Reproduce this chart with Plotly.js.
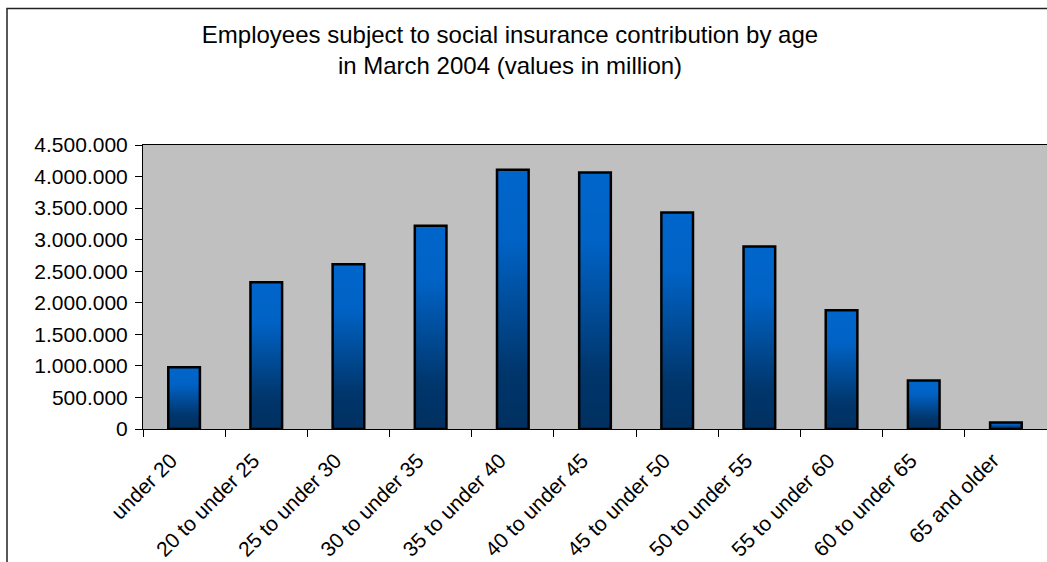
<!DOCTYPE html>
<html>
<head>
<meta charset="utf-8">
<script src="https://cdn.plot.ly/plotly-3.0.1.min.js"></script>
<style>
  html, body { margin: 0; padding: 0; background: #ffffff; }
  #chart { width: 1047px; height: 562px; }
</style>
</head>
<body>
<div id="chart"></div>
<script>
// Age groups and number of employees subject to social insurance contribution (March 2004)
const ageGroups = [
  'under 20', '20 to under 25', '25 to under 30', '30 to under 35',
  '35 to under 40', '40 to under 45', '45 to under 50', '50 to under 55',
  '55 to under 60', '60 to under 65', '65 and older'
];
const employees = [
  979000, 2326000, 2611000, 3220000, 4107000, 4064000,
  3430000, 2892000, 1882000, 768000, 103000
];
const titleLines = [
  'Employees subject to social insurance contribution by age',
  'in March 2004 (values in million)'
];

const FONT = 'Liberation Sans, Arial, Helvetica, sans-serif';

const trace = {
  type: 'bar',
  x: ageGroups,
  y: employees,
  width: 0.385,
  marker: { color: '#0066CC', line: { color: '#000000', width: 2.5 } },
  hoverinfo: 'x+y'
};

const layout = {
  width: 1047,
  height: 562,
  margin: { l: 143, r: 0, t: 145, b: 133, pad: 0 },
  paper_bgcolor: '#ffffff',
  plot_bgcolor: '#C0C0C0',
  separators: ',.',
  showlegend: false,
  font: { family: FONT, color: '#000000', size: 21 },
  title: {
    text: titleLines.join('<br>'),
    font: { family: FONT, size: 24, color: '#000000' },
    xref: 'container', x: 510 / 1047, xanchor: 'center',
    yref: 'container', y: 1 - 43 / 562, yanchor: 'top'
  },
  xaxis: {
    type: 'category',
    range: [-0.5, 10.5],
    tickson: 'boundaries',
    ticks: 'outside', ticklen: 7, tickwidth: 1, tickcolor: '#000000',
    tickangle: -45,
    ticklabelstandoff: 10,
    ticklabelshift: -13,
    tickfont: { family: FONT, size: 21, color: '#000000' },
    showline: true, linecolor: '#000000', linewidth: 1, mirror: true,
    showgrid: false, zeroline: false, fixedrange: true
  },
  yaxis: {
    range: [0, 4500000],
    dtick: 500000, tick0: 0,
    tickformat: ',d',
    ticks: 'outside', ticklen: 7, tickwidth: 1, tickcolor: '#000000',
    ticklabelstandoff: 3,
    tickfont: { family: FONT, size: 21, color: '#000000' },
    showline: true, linecolor: '#000000', linewidth: 1,
    showgrid: false, zeroline: false, fixedrange: true
  },
  shapes: [{
    // chart-area frame
    type: 'rect', xref: 'paper', yref: 'paper', layer: 'below',
    x0: (7 - 143) / 904, x1: 1.2,
    y0: -1, y1: 1 + (145 - 8.5) / 284,
    line: { color: '#222222', width: 1.5 }, fillcolor: 'rgba(0,0,0,0)'
  }]
};

// Vertical blue-to-navy fade applied to each bar
function applyBarFade(gd) {
  const svg = gd.querySelector('svg.main-svg');
  const ns = 'http://www.w3.org/2000/svg';
  const defs = document.createElementNS(ns, 'defs');
  const grad = document.createElementNS(ns, 'linearGradient');
  grad.setAttribute('id', 'barFade');
  grad.setAttribute('x1', '0'); grad.setAttribute('y1', '0');
  grad.setAttribute('x2', '0'); grad.setAttribute('y2', '1');
  [['0', '#0066CC'], ['0.28', '#0062C4'], ['0.78', '#00366C'], ['1', '#003060']].forEach(([o, c]) => {
    const s = document.createElementNS(ns, 'stop');
    s.setAttribute('offset', o);
    s.setAttribute('stop-color', c);
    grad.appendChild(s);
  });
  defs.appendChild(grad);
  svg.insertBefore(defs, svg.firstChild);
  gd.querySelectorAll('.trace.bars .point path').forEach(p => {
    p.style.fill = 'url(#barFade)';
  });
}

Plotly.newPlot('chart', [trace], layout, { displayModeBar: false, staticPlot: true })
  .then(applyBarFade);
</script>
</body>
</html>
